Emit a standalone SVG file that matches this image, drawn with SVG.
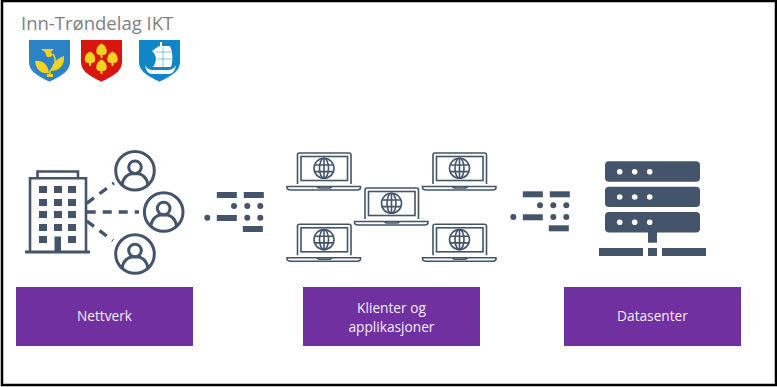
<svg xmlns="http://www.w3.org/2000/svg" width="777" height="387" viewBox="0 0 777 387">
<style>
.ink{fill:#44546a}
.ln{fill:none;stroke:#44546a;stroke-width:2.600}
.ln1{fill:none;stroke:#44546a;stroke-width:1.600}
.dash{fill:none;stroke:#44546a;stroke-width:3.400;stroke-dasharray:9 7}
.box{fill:#7030a0}
.lbl{font-family:"Open Sans",sans-serif;font-size:13.700px;fill:#f4eef8;text-anchor:middle}
.ttl{font-family:"Open Sans",sans-serif;font-size:18.500px;fill:#7f7f7f}
.y{fill:#f4d21f}
</style>
<defs>
<path id="sh" d="M0 0H41V22C41 32 30 37 20.500 41.700C11 37 0 32 0 22Z"/>
<g id="user"><circle r="19.300" class="ln" style="stroke-width:3"/><circle cy="-3.500" r="6.300" class="ln" style="stroke-width:3"/><path d="M-13 14C-11.500 5.500-6 3-3 3H3C6 3 11.500 5.500 13 14" class="ln" style="stroke-width:3"/></g>
<g id="morse" class="ink"><rect x="9.500" y="-14" width="20" height="6"/><rect x="36.500" y="-14" width="20" height="6"/><circle cx="26.700" cy="0" r="3"/><circle cx="40" cy="0" r="3"/><circle cx="53" cy="0" r="3"/><circle cx="0" cy="11.700" r="3"/><rect x="9.500" y="9" width="20" height="6"/><circle cx="40" cy="11.700" r="3"/><circle cx="53" cy="11.700" r="3"/><rect x="35.500" y="20" width="20" height="6"/></g>
<g id="laptop">
<path class="ln1" d="M297.500 184V155Q297.500 153 299.500 153H349Q351 153 351 155V184"/>
<rect class="ln1" x="301" y="156.500" width="46.500" height="24"/>
<path class="ln1" d="M287 186.500H360.500Q361 190 357 190H291Q286.500 190 287 186.500Z"/>
<path class="ln1" d="M317 186.500Q318 188 320 188H329Q331 188 332 186.500"/>
<circle class="ln1" cx="324" cy="168.300" r="10"/>
<ellipse class="ln1" cx="324" cy="168.300" rx="4.500" ry="10"/>
<path class="ln1" d="M324 158.300V178.300M314.500 165H333.500M314.500 171.600H333.500"/>
</g>
</defs>
<rect width="777" height="387" fill="#fff"/>
<rect x="2" y="1" width="774" height="384" fill="#fff" stroke="#000" stroke-width="2.500"/>
<text class="ttl" x="21" y="30">Inn-Trøndelag IKT</text>
<g id="crests">
<g id="crest-1" transform="translate(29 40)"><use href="#sh" fill="#2c83c6"/>
<path class="y" d="M12 9H25L22 12 24 15 21 17H18L16 12Z"/>
<path fill="none" stroke="#f4d21f" stroke-width="1.500" d="M24 14C28 20 26 27 21 31V36"/>
<path class="y" d="M20 33C12 34 7 30 6 21 13 20 19 24 20 33ZM22 31C23 24 28 18 35 16 36 25 30 31 22 31ZM18 34H24V37H18Z"/>
</g>
<g id="crest-2" transform="translate(81 40)"><use href="#sh" fill="#d8150f"/>
<g class="y"><path d="M20.500 3.500C24 5 26.500 9 25.500 13 24.500 16 16.500 16 15.500 13 14.500 9 17 5 20.500 3.500Z"/><path d="M9 11.500C12.500 13 15 17 14 21 13 24 5 24 4 21 3 17 5.500 13 9 11.500Z"/><path d="M31.500 11.500C35 13 37.500 17 36.500 21 35.500 24 27.500 24 26.500 21 25.500 17 28 13 31.500 11.500Z"/><path d="M20.500 19.500C24 21 26.500 25 25.500 29 24.500 32 16.500 32 15.500 29 14.500 25 17 21 20.500 19.500Z"/><rect x="19.500" y="14" width="2" height="4"/><rect x="19.500" y="30" width="2" height="4"/><rect x="8" y="23" width="2" height="3"/><rect x="30.500" y="23" width="2" height="3"/></g>
</g>
<g id="crest-3" transform="translate(139 40)"><use href="#sh" fill="#0f86c8"/>
<path fill="#fff" d="M21 2H23V6H31C34 13 34 21 32 27L14 27C18 22 18 15 13 11L20 6H21Z"/>
<path fill="#fff" d="M6 25C8 29 11 30 14 30H28C32 30 35 29 37 25 36 31 34 33.500 30 34H13C9 33.500 7 31 6 25Z"/>
<path fill="none" stroke="#0f86c8" stroke-width=".5" d="M24 7V27M17 12H32M18 19H33"/></g>
</g>
<g id="connectors">
<path class="dash" d="M86.700 203.300L114 183"/>
<path class="dash" d="M86.700 212H139"/>
<path class="dash" d="M86.700 221L113 240.700"/>
</g>
<g id="building" class="ink">
<path class="ln" d="M37.500 178V171.500H78V178M30 252V178.300H86V252"/>
<rect x="25" y="250.500" width="65" height="3"/>
<rect x="39" y="186" width="8" height="7"/><rect x="54" y="186" width="8" height="7"/><rect x="68" y="186" width="8" height="7"/>
<rect x="39" y="199" width="8" height="7"/><rect x="54" y="199" width="8" height="7"/><rect x="68" y="199" width="8" height="7"/>
<rect x="39" y="211" width="8" height="7"/><rect x="54" y="211" width="8" height="7"/><rect x="68" y="211" width="8" height="7"/>
<rect x="39" y="224" width="8" height="7"/><rect x="54" y="224" width="8" height="7"/><rect x="68" y="224" width="8" height="7"/>
<rect x="39" y="236" width="8" height="7"/><rect x="54.500" y="236.500" width="6.500" height="15"/><rect x="68" y="236" width="8" height="7"/>
</g>
<g id="user-1" transform="translate(135 170.700)"><use href="#user"/></g>
<g id="user-2" transform="translate(163.700 212)"><use href="#user"/></g>
<g id="user-3" transform="translate(135 254)"><use href="#user"/></g>
<g id="signal-1"><use href="#morse" x="207.300" y="206"/></g>
<g id="laptop-1"><use href="#laptop"/></g>
<g id="laptop-2"><use href="#laptop" x="135.500"/></g>
<g id="laptop-3"><use href="#laptop" x="67.500" y="35"/></g>
<g id="laptop-4"><use href="#laptop" y="71.300"/></g>
<g id="laptop-5"><use href="#laptop" x="135.500" y="71.300"/></g>
<g id="signal-2"><use href="#morse" x="513.300" y="205.300"/></g>
<g id="server" class="ink">
<rect x="605" y="161.300" width="95" height="20.400" rx="4"/><rect x="605" y="186.700" width="95" height="20.400" rx="4"/><rect x="605" y="212" width="95" height="20.400" rx="4"/>
<g fill="#fff"><circle cx="619.700" cy="171.700" r="2.800"/><circle cx="634.700" cy="171.700" r="2.800"/><circle cx="649.700" cy="171.700" r="2.800"/><circle cx="619.700" cy="197" r="2.800"/><circle cx="634.700" cy="197" r="2.800"/><circle cx="649.700" cy="197" r="2.800"/><circle cx="619.700" cy="222.300" r="2.800"/><circle cx="634.700" cy="222.300" r="2.800"/><circle cx="649.700" cy="222.300" r="2.800"/></g>
<rect x="648" y="232" width="9" height="10.700"/><rect x="599" y="248" width="44" height="8"/><rect x="648" y="248" width="9" height="8"/><rect x="662" y="248" width="44" height="8"/>
</g>
<g id="node-nettverk"><rect class="box" x="16" y="287" width="177" height="59"/><text class="lbl" x="104.500" y="321">Nettverk</text></g>
<g id="node-klienter"><rect class="box" x="303" y="287" width="177" height="59"/><text class="lbl" x="391.500" y="313">Klienter og</text><text class="lbl" x="391.500" y="332">applikasjoner</text></g>
<g id="node-datasenter"><rect class="box" x="564" y="287" width="177" height="59"/><text class="lbl" x="652.500" y="321">Datasenter</text></g>
</svg>
